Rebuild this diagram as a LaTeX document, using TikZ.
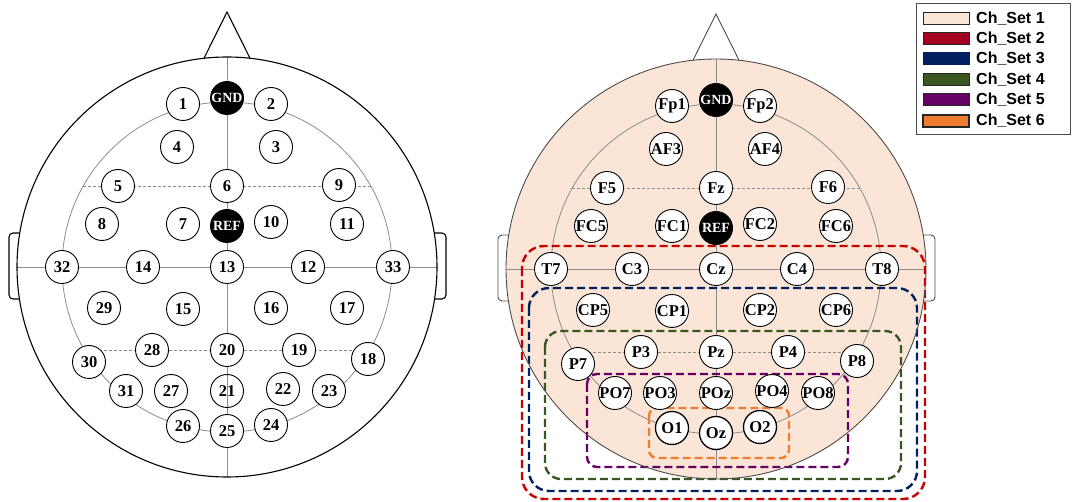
\documentclass[tikz,border=0pt]{standalone}
\usepackage{fontspec}
\setmainfont{Liberation Serif}
\setsansfont{Liberation Sans}
\usetikzlibrary{calc}
\definecolor{peach}{RGB}{251,229,214}
\definecolor{setred}{RGB}{200,0,0}
\definecolor{setredsw}{RGB}{165,0,33}
\definecolor{setnavy}{RGB}{0,32,96}
\definecolor{setgreen}{RGB}{56,87,35}
\definecolor{setpurple}{RGB}{102,0,102}
\definecolor{setorange}{RGB}{237,125,49}
\definecolor{guide}{RGB}{140,140,140}
\begin{document}
\begin{tikzpicture}[x=1pt,y=-1pt,
  electrode/.style={circle, draw=black, fill=white, line width=0.9pt, minimum size=33pt, inner sep=0pt, font=\bfseries\fontsize{16.5}{16.5}\selectfont},
  refnode/.style={electrode, fill=black, text=white, font=\bfseries\fontsize{14}{14}\selectfont},
  guideline/.style={draw=guide, line width=0.8pt},
  guidedash/.style={draw=guide, line width=0.8pt, dash pattern=on 3pt off 2pt},
  headline/.style={draw=black, line width=1.1pt},
  headlineR/.style={draw=black!70, line width=0.9pt},
  setbox/.style={line width=2.4pt, dash pattern=on 8pt off 4pt},
  swatch/.style={draw=black!85, line width=1pt, minimum width=46pt, minimum height=12pt, inner sep=0pt},
  legtext/.style={anchor=west, inner sep=0pt, font=\sffamily\bfseries\fontsize{16}{16}\selectfont}
]
\useasboundingbox (0,0) rectangle (1072,502);

% ---------------- left head ----------------
\begin{scope}[shift={(227,267)}]
  \coordinate (LT) at (0,-210);
  \coordinate (LB) at (0,210);
  \coordinate (LL) at (-210,0);
  \coordinate (LR) at (210,0);
  \draw[guideline] (LT) -- (LB);
  \draw[guideline] (LL) -- (LR);
  \draw[guideline] (0,0) circle[radius=165pt];
  \draw[guidedash] (-143.7,-81) -- (143.7,-81);
  \draw[guidedash] (-142.6,83) -- (142.6,83);
  \draw[headline] (0,0) circle[radius=210pt];
  \draw[headline] (-23,-208.7) -- (0,-255) -- (23,-208.7);
  \draw[headline, rounded corners=4pt] (-207.2,-34) -- (-218,-34) -- (-218,32) -- (-207.5,32);
  \draw[headline, rounded corners=4pt] (207.2,-34) -- (219,-34) -- (219,32) -- (207.5,32);
\end{scope}

% ---------------- right head ----------------
\begin{scope}[shift={(716,269)}]
  \coordinate (RT) at (0,-210);
  \coordinate (RB) at (0,210);
  \coordinate (RL) at (-210,0);
  \coordinate (RR) at (210,0);
  \fill[peach] (0,0) circle[radius=210pt];
  \draw[guideline] (RT) -- (RB);
  \draw[guideline] (RL) -- (RR);
  \draw[guideline] (0,0) circle[radius=165pt];
  \draw[guidedash] (-143.7,-81) -- (143.7,-81);
  \draw[guidedash] (-142.6,83) -- (142.6,83);
\end{scope}

% channel-set boxes
\draw[setbox, setred, rounded corners=22pt] (522,246) rectangle (925,499);
\draw[setbox, setnavy, rounded corners=20pt] (529,288) rectangle (917,491);
\draw[setbox, setgreen, rounded corners=16pt] (545,331) rectangle (901,479);
\draw[setbox, setpurple, rounded corners=10pt] (587,374) rectangle (848,467);
\draw[setbox, setorange, rounded corners=8pt] (649,408) rectangle (789,458);

\begin{scope}[shift={(716,269)}]
  \draw[headlineR] (0,0) circle[radius=210pt];
  \draw[headlineR] (-23,-208.7) -- (0,-255) -- (23,-208.7);
  \draw[headlineR, rounded corners=4pt] (-207.2,-34) -- (-218,-34) -- (-218,32) -- (-207.5,32);
  \draw[headlineR, rounded corners=4pt] (207.2,-34) -- (219,-34) -- (219,32) -- (207.5,32);
\end{scope}

% ---------------- electrodes ----------------
\foreach \px/\py/\a/\b in {
  -44/-163/1/Fp1, 44/-163/2/Fp2, -50/-120/4/AF3, 49/-120/3/AF4,
  -109/-81/5/F5, 0/-81/6/Fz, 112/-82/9/F6,
  -125/-43/8/FC5, -44/-43/7/FC1, 44/-45/10/FC2, 120/-43/11/FC6,
  -165/0/32/T7, -84/0/14/C3, 0/0/13/Cz, 81/0/12/C4, 166/0/33/T8,
  -123/41/29/CP5, -44/42/15/CP1, 44/41/16/CP2, 120/41/17/CP6,
  -138/95/30/P7, -75/83/28/P3, 0/83/20/Pz, 72/83/19/P4, 141/92/18/P8,
  -101/124/31/PO7, -56/124/27/PO3, 56/122/22/PO4, 102/124/23/PO8}{
  \node[electrode] (L-\a) at ($(227,267)+(\px,\py)$) {\a};
  \node[electrode] (R-\b) at ($(716,269)+(\px,\py)$) {\b};
}
\node[electrode, fill=none] (L-21) at (227,391) {21};
\node[electrode] (R-POz) at (716,393) {POz};
\foreach \px/\py/\a/\b in {-44/159/26/O1, 0/164/25/Oz, 44/158/24/O2}{
  \node[electrode] (L-\a) at ($(227,267)+(\px,\py)$) {\a};
  \node[electrode, line width=1.3pt] (R-\b) at ($(716,269)+(\px,\py)$) {\b};
}
\node[refnode] (L-GND) at (227,98) {GND};
\node[refnode] (L-REF) at (227,226) {REF};
\node[refnode] (R-GND) at (716,100) {GND};
\node[refnode] (R-REF) at (716,228) {REF};

% ---------------- legend ----------------
\node[draw=black!70, line width=0.9pt, minimum width=154pt, minimum height=131pt, anchor=north west, inner sep=0pt] (legend) at (916,3) {};
\node[swatch, fill=peach] (sw1) at (946,19) {};
\node[swatch, fill=setredsw] (sw2) at (946,39) {};
\node[swatch, fill=setnavy, draw=setnavy] (sw3) at (946,59) {};
\node[swatch, fill=setgreen] (sw4) at (946,80) {};
\node[swatch, fill=setpurple] (sw5) at (946,100) {};
\node[swatch, fill=setorange, line width=1.3pt] (sw6) at (946,121) {};
\node[legtext] (lt1) at (976,19) {Ch\_Set 1};
\node[legtext] (lt2) at (976,39) {Ch\_Set 2};
\node[legtext] (lt3) at (976,59) {Ch\_Set 3};
\node[legtext] (lt4) at (976,80) {Ch\_Set 4};
\node[legtext] (lt5) at (976,100) {Ch\_Set 5};
\node[legtext] (lt6) at (976,121) {Ch\_Set 6};
\end{tikzpicture}
\end{document}
